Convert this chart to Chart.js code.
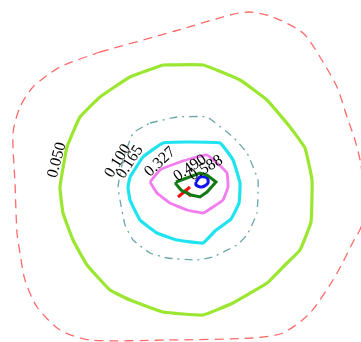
<!DOCTYPE html>
<html><head><meta charset="utf-8">
<script src="https://cdn.jsdelivr.net/npm/chart.js@4/dist/chart.umd.min.js"></script>
<style>html,body{margin:0;padding:0;background:#fff;}#c{display:block;}</style>
</head><body>
<canvas id="c" width="361" height="342"></canvas>
<script>
// contour levels (outer to inner) traced as [x, y] in plot units
const levelOuter = [[100,52],[175,31],[230,15],[250,12],[273,17],[303,33],[320,57],[337,87],[347,117],[355,140],[361,165],[363,195],[361,227],[353,242],[343,262],[333,280],[310,313],[283,333],[253,338],[167,340],[90,340],[60,330],[37,307],[25,280],[20,253],[17,233],[15,183],[13,133],[20,107],[33,87],[60,67],[100,52]];
const level050 = [[163,65],[203,65],[240,80],[267,100],[290,127],[305,148],[312,180],[311,222],[300,250],[285,265],[267,283],[233,303],[203,315],[163,312],[130,300],[110,290],[87,265],[73,240],[63,213],[60,187],[67,147],[80,117],[100,97],[130,77],[163,65]];
const level100 = [[150,123],[177,117],[207,117],[233,137],[247,153],[258,180],[257,213],[247,235],[237,245],[213,257],[197,260],[167,258],[150,253],[133,240],[125,225],[120,200],[118,187],[123,160],[133,133],[150,123]];
const level165 = [[130,177],[143,157],[163,143],[187,142],[220,143],[233,160],[240,183],[239,203],[231,219],[215,231],[203,243],[177,240],[157,233],[140,220],[130,200],[128,187],[130,177]];
const level327 = [[150,182],[160,170],[180,162],[197,157],[207,155],[217,163],[227,173],[228,187],[223,200],[213,207],[203,213],[187,210],[170,203],[157,193],[150,182]];
const level490 = [[176,182],[200,173],[207,175],[216,182],[207,192],[200,197],[191,195],[181,190],[176,184],[176,182]];
const level588 = [[196,182],[200,177],[207,178],[208,183],[202,187],[196,185],[196,182]];
const levelPeak = [[178,197],[184,192],[190,187],[null,null],[184,190],[191,196]];
// contour labels
const labelText = ["0.050","0.100","0.165","0.327","0.490","0.588"];
const labelX = [57,118,130,160,190,206];
const labelY = [160,161,162,162,168,168];
const labelAngle = [-75,-58,-57,-43,-34,-30];

const toPts = a => a.map(p => ({x:p[0], y:p[1]}));

const labelPlugin = {
  id:'clabels',
  afterDatasetsDraw(chart){
    const {ctx, scales:{x, y}} = chart;
    ctx.save();
    ctx.fillStyle = '#000';
    ctx.font = '16px "Liberation Serif", "DejaVu Serif", serif';
    ctx.textAlign = 'center';
    ctx.textBaseline = 'middle';
    labelText.forEach((t,i)=>{
      ctx.save();
      ctx.translate(x.getPixelForValue(labelX[i]), y.getPixelForValue(labelY[i]));
      ctx.rotate(labelAngle[i]*Math.PI/180);
      ctx.fillText(t,0,0);
      ctx.restore();
    });
    ctx.restore();
  }
};

new Chart(document.getElementById('c'), {
  type:'scatter',
  data:{datasets:[
    {data:toPts(levelOuter), borderColor:'#ff6a6a', borderWidth:1.3, borderDash:[9,6], tension:0.25},
    {data:toPts(level050), borderColor:'#9be631', borderWidth:3.2, tension:0.1},
    {data:toPts(level100), borderColor:'#6aa6a8', borderWidth:1.3, borderDash:[8,5,2,5], tension:0.1},
    {data:toPts(level165), borderColor:'#1fe3ef', borderWidth:3.2, tension:0.1},
    {data:toPts(level327), borderColor:'#f27cf0', borderWidth:2.8, tension:0.1},
    {data:toPts(level490), borderColor:'#137a13', borderWidth:3, tension:0},
    {data:toPts(level588), borderColor:'#1010f0', borderWidth:3, tension:0.3},
    {data:toPts(levelPeak), borderColor:'#f01010', borderWidth:3, tension:0, spanGaps:false}
  ].map(d=>Object.assign({showLine:true, pointRadius:0, pointHoverRadius:0, fill:false}, d))},
  options:{
    responsive:false, animation:false,
    layout:{padding:0},
    plugins:{legend:{display:false}, tooltip:{enabled:false}},
    scales:{
      x:{type:'linear', min:0, max:361, display:false},
      y:{type:'linear', min:0, max:342, reverse:true, display:false}
    }
  },
  plugins:[labelPlugin]
});
</script>
</body></html>
